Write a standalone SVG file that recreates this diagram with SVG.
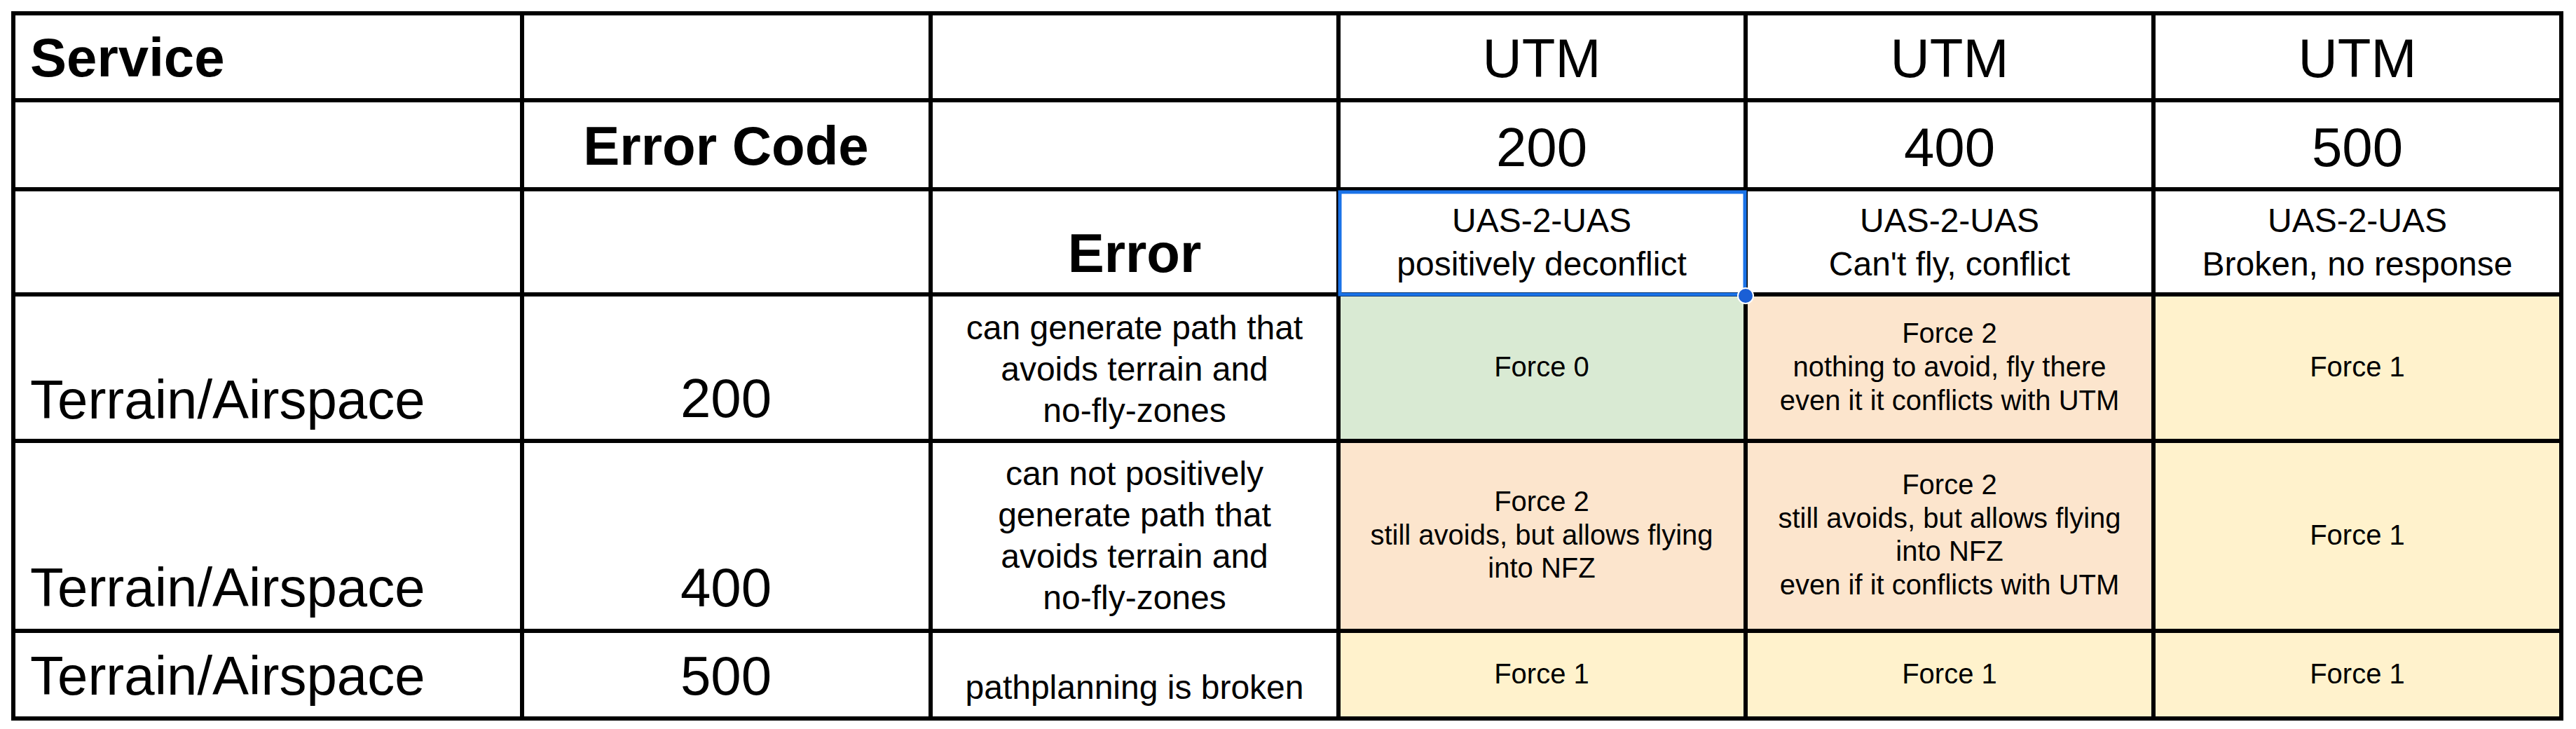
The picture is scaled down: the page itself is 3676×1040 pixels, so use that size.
<svg xmlns="http://www.w3.org/2000/svg" width="3676" height="1040" viewBox="0 0 3676 1040">
<style>
text{font-family:"Liberation Sans",Arial,sans-serif;fill:#000}
.big{font-size:78px}
.b{font-weight:bold}
.m{font-size:48px;text-anchor:middle}
.s{font-size:40px;text-anchor:middle}
.c{text-anchor:middle}
.grid line{stroke:#000;stroke-width:6}
</style>
<rect width="3676" height="1040" fill="#fff"/>
<g id="fills">
<rect x="1910" y="422" width="581" height="207" fill="#d9ead3"/>
<rect x="2491" y="422" width="582" height="207" fill="#fce5cd"/>
<rect x="3073" y="422" width="582" height="207" fill="#fff2cc"/>
<rect x="1910" y="629" width="581" height="271" fill="#fce5cd"/>
<rect x="2491" y="629" width="582" height="271" fill="#fce5cd"/>
<rect x="3073" y="629" width="582" height="271" fill="#fff2cc"/>
<rect x="1910" y="900" width="1745" height="125" fill="#fff2cc"/>
</g>
<g id="connectors" class="grid">
<line x1="19" y1="19" x2="3655" y2="19"/>
<line x1="19" y1="143" x2="3655" y2="143"/>
<line x1="19" y1="270" x2="3655" y2="270"/>
<line x1="19" y1="420" x2="3655" y2="420"/>
<line x1="19" y1="629" x2="3655" y2="629"/>
<line x1="19" y1="900" x2="3655" y2="900"/>
<line x1="19" y1="1025" x2="3655" y2="1025"/>
<line x1="19" y1="16" x2="19" y2="1028"/>
<line x1="745" y1="16" x2="745" y2="1028"/>
<line x1="1328" y1="16" x2="1328" y2="1028"/>
<line x1="1910" y1="16" x2="1910" y2="1028"/>
<line x1="2491" y1="16" x2="2491" y2="1028"/>
<line x1="3073" y1="16" x2="3073" y2="1028"/>
<line x1="3655" y1="16" x2="3655" y2="1028"/>
</g>
<g id="row1">
<text class="big b" x="43" y="109">Service</text>
<text class="big c" x="2200" y="110">UTM</text>
<text class="big c" x="2782" y="110">UTM</text>
<text class="big c" x="3364" y="110">UTM</text>
</g>
<g id="row2">
<text class="big b c" x="1036" y="235">Error Code</text>
<text class="big c" x="2200" y="237">200</text>
<text class="big c" x="2782" y="237">400</text>
<text class="big c" x="3364" y="237">500</text>
</g>
<g id="row3">
<text class="big b c" x="1619" y="388">Error</text>
<text class="m" x="2200" y="331">UAS-2-UAS</text>
<text class="m" x="2200" y="393">positively deconflict</text>
<text class="m" x="2782" y="331">UAS-2-UAS</text>
<text class="m" x="2782" y="393">Can't fly, conflict</text>
<text class="m" x="3364" y="331">UAS-2-UAS</text>
<text class="m" x="3364" y="393">Broken, no response</text>
</g>
<g id="row4">
<text class="big" x="43" y="597">Terrain/Airspace</text>
<text class="big c" x="1036" y="595">200</text>
<text class="m" x="1619" y="484">can generate path that</text>
<text class="m" x="1619" y="543">avoids terrain and</text>
<text class="m" x="1619" y="602">no-fly-zones</text>
<text class="s" x="2200" y="537">Force 0</text>
<text class="s" x="2782" y="489">Force 2</text>
<text class="s" x="2782" y="537">nothing to avoid, fly there</text>
<text class="s" x="2782" y="585">even it it conflicts with UTM</text>
<text class="s" x="3364" y="537">Force 1</text>
</g>
<g id="row5">
<text class="big" x="43" y="865">Terrain/Airspace</text>
<text class="big c" x="1036" y="865">400</text>
<text class="m" x="1619" y="692">can not positively</text>
<text class="m" x="1619" y="751">generate path that</text>
<text class="m" x="1619" y="810">avoids terrain and</text>
<text class="m" x="1619" y="869">no-fly-zones</text>
<text class="s" x="2200" y="729">Force 2</text>
<text class="s" x="2200" y="777">still avoids, but allows flying</text>
<text class="s" x="2200" y="824">into NFZ</text>
<text class="s" x="2782" y="705">Force 2</text>
<text class="s" x="2782" y="753">still avoids, but allows flying</text>
<text class="s" x="2782" y="800">into NFZ</text>
<text class="s" x="2782" y="848">even if it conflicts with UTM</text>
<text class="s" x="3364" y="777">Force 1</text>
</g>
<g id="row6">
<text class="big" x="43" y="991">Terrain/Airspace</text>
<text class="big c" x="1036" y="991">500</text>
<text class="m" x="1619" y="997">pathplanning is broken</text>
<text class="s" x="2200" y="975">Force 1</text>
<text class="s" x="2782" y="975">Force 1</text>
<text class="s" x="3364" y="975">Force 1</text>
</g>
<g id="selection">
<rect x="1912" y="274" width="578" height="146" fill="none" stroke="#1a73e8" stroke-width="5"/>
<circle cx="2491" cy="422" r="11" fill="#1a5fd6" stroke="#fff" stroke-width="2"/>
</g>
</svg>
